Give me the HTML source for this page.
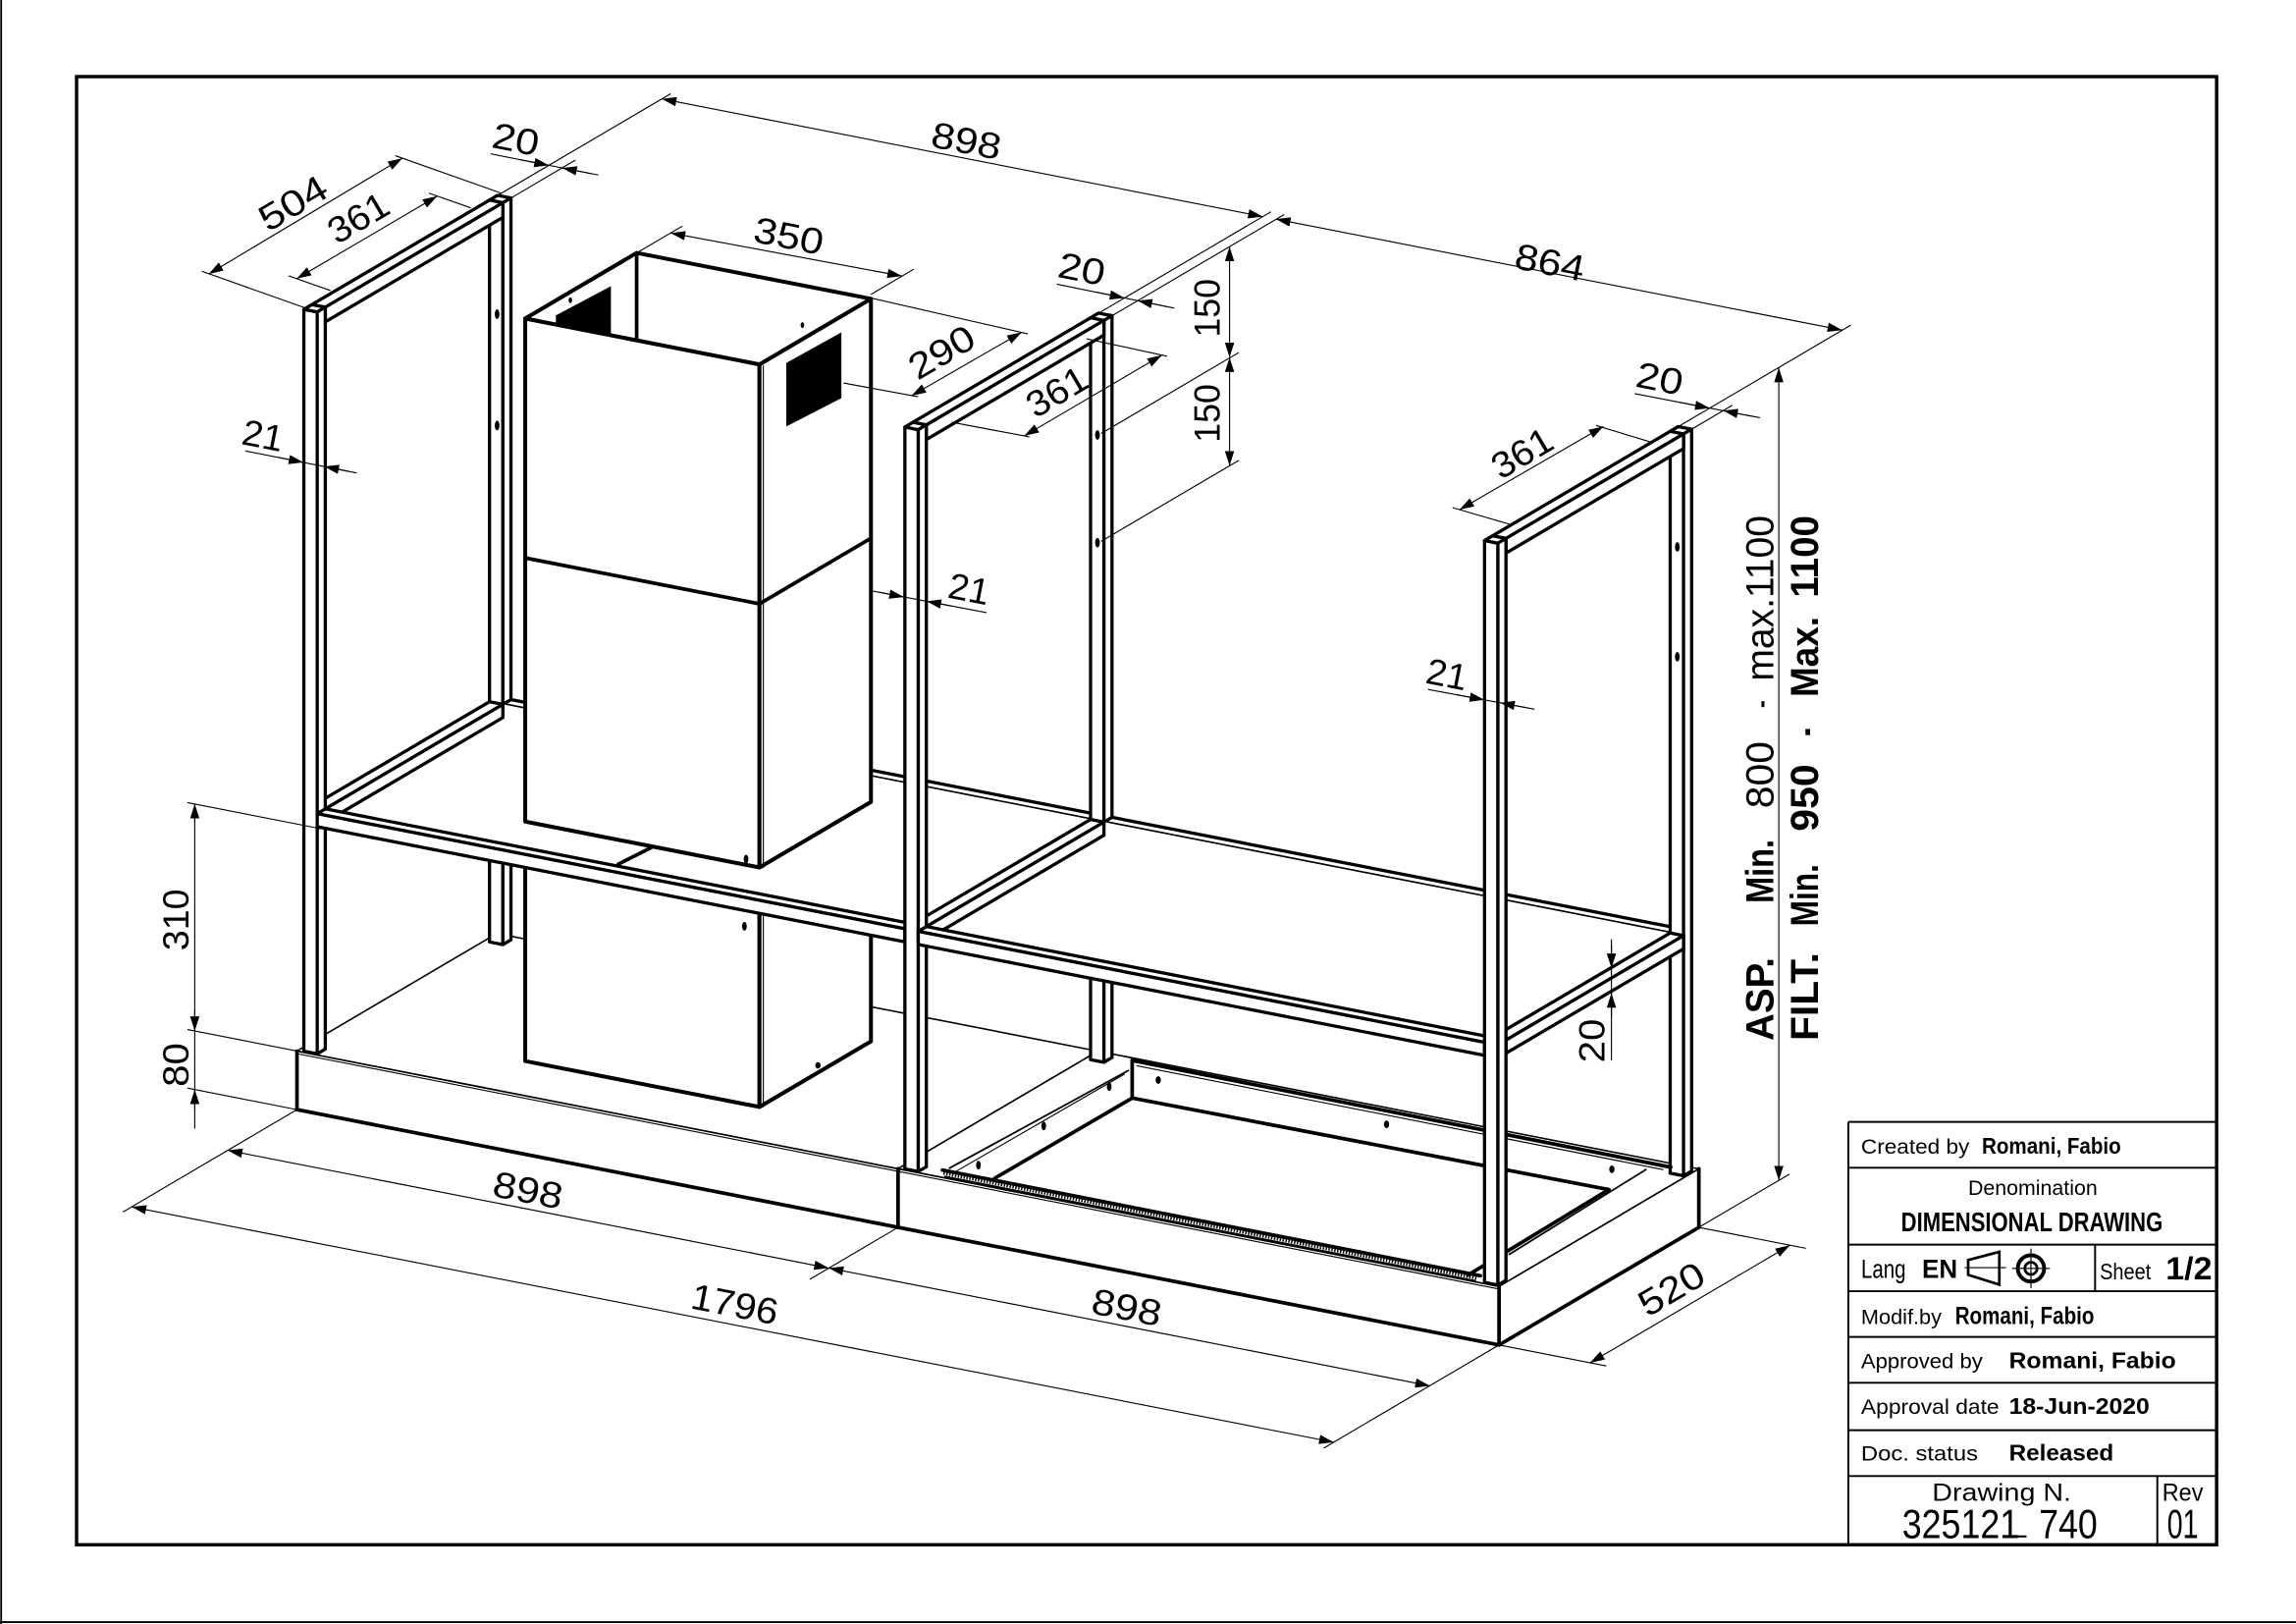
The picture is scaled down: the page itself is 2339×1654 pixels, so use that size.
<!DOCTYPE html>
<html><head><meta charset="utf-8">
<style>
html,body{margin:0;padding:0;background:#fff}
svg{display:block}
.t{fill:#fff;stroke:#000;stroke-width:3.3;vector-effect:non-scaling-stroke;stroke-linejoin:round}
.bx{fill:#fff;stroke:#000;stroke-width:4;vector-effect:non-scaling-stroke;stroke-linejoin:round}
.b{fill:#fff;stroke:#000;stroke-width:1.6;vector-effect:non-scaling-stroke}
.p{fill:#fff;stroke:none}
.d{stroke:#000;stroke-width:.75;fill:none}
.k{stroke:#000;stroke-width:2.5;fill:none;stroke-linecap:round}
.m{stroke:#000;stroke-width:1.2;fill:none}
.n{font-family:"Liberation Sans",Arial,sans-serif;font-size:25px;text-anchor:middle;dominant-baseline:central;fill:#000}
.tb{font-family:"Liberation Sans",Arial,sans-serif;fill:#000}
.bd{font-weight:bold}
</style></head>
<body>
<svg width="2339" height="1654">
<defs>
<marker id="ar" viewBox="0 0 10 6.4" refX="10" refY="3.2" markerWidth="10" markerHeight="6.4" markerUnits="userSpaceOnUse" orient="auto-start-reverse"><path d="M0,0L10,3.2L0,6.4Z" fill="#000"/></marker>
</defs>
<rect x="0" y="0" width="2339" height="1654" fill="#fff"/>
<g transform="scale(1.4917)">

<!-- ===== BASES ===== -->
<rect class="b" transform="matrix(.4571 .0895 0 -.5 202.8 757.6)" x="0" y="0" width="898" height="80"/>
<rect class="b" transform="matrix(.4571 .0895 .2625 -.1544 202.8 717.6)" x="0" y="0" width="898" height="520"/>
<rect class="b" transform="matrix(.4571 .0895 0 -.5 202.8 757.6)" x="898" y="0" width="898" height="80"/>
<rect class="b" transform="matrix(.4571 .0895 .2625 -.1544 202.8 717.6)" x="898" y="0" width="898" height="520"/>
<rect class="b" transform="matrix(.2625 -.1544 0 -.5 1023.75 918.34)" x="0" y="0" width="520" height="80"/>
<polyline class="k" points="202.8,717.6 202.8,757.6 1023.75,918.3 1160.2,838 1160.2,798"/>
<line class="k" x1="613.3" y1="798" x2="613.3" y2="838"/>
<line class="k" x1="1023.75" y1="878.3" x2="1023.75" y2="918.3"/>
<line class="d" x1="202.8" y1="719.4" x2="1023.75" y2="880.1"/>

<!-- ===== BACK POSTS & BACK RAILS ===== -->
<rect class="t" transform="matrix(.4571 .0895 0 -.5 330.64 682.41)" x="8" y="80" width="20" height="1013"/>
<rect class="t" transform="matrix(.4571 .0895 .2625 -.1544 202.8 211.1)" x="8" y="487" width="20" height="21"/>
<rect class="t" transform="matrix(.2625 -.1544 0 -.5 215.6 760.11)" x="487" y="80" width="21" height="1013"/>

<rect class="t" transform="matrix(.4571 .0895 0 -.5 330.64 682.41)" x="28" y="390" width="878" height="18"/>
<rect class="t" transform="matrix(.4571 .0895 .2625 -.1544 202.8 553.6)" x="28" y="487" width="878" height="21"/>

<rect class="t" transform="matrix(.4571 .0895 0 -.5 330.64 682.41)" x="906" y="80" width="20" height="1013"/>
<rect class="t" transform="matrix(.4571 .0895 .2625 -.1544 202.8 211.1)" x="906" y="487" width="20" height="21"/>
<rect class="t" transform="matrix(.2625 -.1544 0 -.5 626.07 840.48)" x="487" y="80" width="21" height="1013"/>

<rect class="t" transform="matrix(.4571 .0895 0 -.5 330.64 682.41)" x="926" y="390" width="846" height="18"/>
<rect class="t" transform="matrix(.4571 .0895 .2625 -.1544 202.8 553.6)" x="926" y="487" width="846" height="21"/>

<rect class="t" transform="matrix(.4571 .0895 0 -.5 330.64 682.41)" x="1772" y="80" width="20" height="1013"/>
<rect class="t" transform="matrix(.4571 .0895 .2625 -.1544 202.8 211.1)" x="1772" y="487" width="20" height="21"/>
<rect class="t" transform="matrix(.2625 -.1544 0 -.5 1021.92 917.98)" x="487" y="80" width="21" height="1013"/>

<!-- holes on back posts -->
<g fill="#000">
<ellipse cx="339.5" cy="214.5" rx="1.6" ry="3.3"/>
<ellipse cx="339.5" cy="290.5" rx="1.6" ry="3.3"/>
<ellipse cx="749.5" cy="297" rx="1.6" ry="3.3"/>
<ellipse cx="749.5" cy="370.5" rx="1.6" ry="3.3"/>
<ellipse cx="1145.5" cy="373.4" rx="1.6" ry="3.3"/>
<ellipse cx="1145.5" cy="448.4" rx="1.6" ry="3.3"/>
</g>

<!-- ===== RIGHT UNIT TRAY ===== -->
<line class="m" x1="648" y1="797.8" x2="770.9" y2="730.7"/>
<line class="d" x1="652" y1="800.3" x2="768" y2="733.3"/>
<line class="k" x1="679.3" y1="804.5" x2="773.2" y2="749.7"/>
<line class="k" x1="773.2" y1="724" x2="773.2" y2="749.7"/>
<line class="k" x1="773.2" y1="724" x2="1141" y2="796.9"/>
<line class="d" x1="776" y1="727.6" x2="1136" y2="798.6"/>
<line class="k" x1="773.2" y1="749.7" x2="1098.7" y2="812.2"/>
<line class="k" x1="1098.7" y1="812.2" x2="1002.5" y2="870.6"/>
<line class="m" x1="1030.3" y1="856.7" x2="1124.4" y2="798.3"/>
<line class="k" x1="643.6" y1="798.9" x2="1011" y2="871"/>
<line stroke="#000" stroke-width="2.2" stroke-dasharray="1 1" x1="644.3" y1="801" x2="1009" y2="872.8"/>
<line class="m" x1="645" y1="803.2" x2="1008" y2="874.6"/>
<g fill="#000">
<ellipse cx="668.2" cy="795.5" rx="1.6" ry="3"/>
<ellipse cx="712.8" cy="768.7" rx="1.6" ry="3"/>
<ellipse cx="757.5" cy="741.9" rx="1.6" ry="3"/>
<ellipse cx="791" cy="737.4" rx="1.8" ry="2.6"/>
<ellipse cx="946.9" cy="767.7" rx="1.8" ry="2.6"/>
<ellipse cx="1100.8" cy="798.3" rx="1.8" ry="2.6"/>
</g>

<!-- ===== LOWER CHIMNEY BOX ===== -->
<rect class="bx" transform="matrix(.4571 .0895 0 -.5 232.99 739.84)" x="275" y="80" width="350" height="310"/>
<rect class="bx" transform="matrix(.2625 -.1544 0 -.5 488.49 813.54)" x="115" y="80" width="290" height="310"/>
<line class="d" x1="521.3" y1="600" x2="521.3" y2="756"/>
<g fill="#000">
<ellipse cx="508.4" cy="632.4" rx="1.6" ry="3"/>
<ellipse cx="558.6" cy="727.4" rx="1.8" ry="2.2"/>
</g>

<!-- ===== SHELF PLATES ===== -->
<rect class="p" transform="matrix(.4571 .0895 .2625 -.1544 202.8 553.6)" x="28" y="25" width="878" height="462"/>
<rect class="p" transform="matrix(.4571 .0895 .2625 -.1544 202.8 553.6)" x="926" y="25" width="846" height="462"/>

<!-- ===== SIDE RAILS (Y direction) ===== -->
<rect class="t" transform="matrix(.4571 .0895 .2625 -.1544 202.8 553.6)" x="8" y="25" width="20" height="462"/>
<rect class="t" transform="matrix(.2625 -.1544 0 -.5 215.6 760.11)" x="25" y="390" width="462" height="18"/>
<rect class="t" transform="matrix(.4571 .0895 .2625 -.1544 202.8 211.1)" x="8" y="25" width="20" height="462"/>
<rect class="t" transform="matrix(.2625 -.1544 0 -.5 215.6 760.11)" x="25" y="1073" width="462" height="20"/>

<rect class="t" transform="matrix(.4571 .0895 .2625 -.1544 202.8 553.6)" x="906" y="25" width="20" height="462"/>
<rect class="t" transform="matrix(.2625 -.1544 0 -.5 626.07 840.48)" x="25" y="390" width="462" height="18"/>
<rect class="t" transform="matrix(.4571 .0895 .2625 -.1544 202.8 211.1)" x="906" y="25" width="20" height="462"/>
<rect class="t" transform="matrix(.2625 -.1544 0 -.5 626.07 840.48)" x="25" y="1073" width="462" height="20"/>

<rect class="t" transform="matrix(.4571 .0895 .2625 -.1544 202.8 553.6)" x="1772" y="25" width="20" height="462"/>
<rect class="t" transform="matrix(.2625 -.1544 0 -.5 1021.92 917.98)" x="25" y="390" width="462" height="18"/>
<rect class="t" transform="matrix(.4571 .0895 .2625 -.1544 202.8 211.1)" x="1772" y="25" width="20" height="462"/>
<rect class="t" transform="matrix(.2625 -.1544 0 -.5 1021.92 917.98)" x="25" y="1073" width="462" height="20"/>

<!-- ===== UPPER CHIMNEY BOX ===== -->
<rect class="bx" transform="matrix(.4571 .0895 0 -.5 232.99 739.84)" x="275" y="407" width="350" height="687"/>
<rect class="bx" transform="matrix(.2625 -.1544 0 -.5 488.49 813.54)" x="115" y="407" width="290" height="687"/>
<rect class="bx" transform="matrix(.4571 .0895 .2625 -.1544 202.8 210.6)" x="275" y="115" width="350" height="290"/>
<line class="k" x1="434.8" y1="172.7" x2="434.8" y2="232.4"/>
<polygon points="379.6,215.4 417.2,195.4 417.2,228.9 379.6,221.5" fill="#000"/>
<polygon points="537,247.8 574.6,226.9 574.6,271.8 537,291.2" fill="#000"/>
<polyline class="k" points="358.7,380.95 518.68,412.28 594.8,367.5"/>
<line class="d" x1="521.3" y1="249.5" x2="521.3" y2="592.6"/>
<g fill="#000">
<ellipse cx="509.5" cy="586.6" rx="1.6" ry="3"/>
<ellipse cx="389.5" cy="205" rx="1.2" ry="2"/>
<ellipse cx="548" cy="222" rx="1.2" ry="2"/>
</g>
<line class="k" x1="422.3" y1="590" x2="444.7" y2="578.7"/>

<!-- ===== FRONT POSTS & FRONT RAILS ===== -->
<rect class="t" transform="matrix(.4571 .0895 0 -.5 203.85 756.98)" x="8" y="80" width="20" height="1013"/>
<rect class="t" transform="matrix(.4571 .0895 .2625 -.1544 202.8 211.1)" x="8" y="4" width="20" height="21"/>
<rect class="t" transform="matrix(.2625 -.1544 0 -.5 215.6 760.11)" x="4" y="80" width="21" height="1013"/>

<rect class="t" transform="matrix(.4571 .0895 0 -.5 203.85 756.98)" x="28" y="390" width="878" height="18"/>
<rect class="t" transform="matrix(.4571 .0895 .2625 -.1544 202.8 553.6)" x="28" y="4" width="878" height="21"/>

<rect class="t" transform="matrix(.4571 .0895 0 -.5 203.85 756.98)" x="906" y="80" width="20" height="1013"/>
<rect class="t" transform="matrix(.4571 .0895 .2625 -.1544 202.8 211.1)" x="906" y="4" width="20" height="21"/>
<rect class="t" transform="matrix(.2625 -.1544 0 -.5 626.07 840.48)" x="4" y="80" width="21" height="1013"/>

<rect class="t" transform="matrix(.4571 .0895 0 -.5 203.85 756.98)" x="926" y="390" width="846" height="18"/>
<rect class="t" transform="matrix(.4571 .0895 .2625 -.1544 202.8 553.6)" x="926" y="4" width="846" height="21"/>

<rect class="t" transform="matrix(.4571 .0895 0 -.5 203.85 756.98)" x="1772" y="80" width="20" height="1013"/>
<rect class="t" transform="matrix(.4571 .0895 .2625 -.1544 202.8 211.1)" x="1772" y="4" width="20" height="21"/>
<rect class="t" transform="matrix(.2625 -.1544 0 -.5 1021.92 917.98)" x="4" y="80" width="21" height="1013"/>

<!-- ===== DIMENSIONS ===== -->
<g class="d">
<line x1="142.5" y1="187.1" x2="274.8" y2="108" marker-start="url(#ar)" marker-end="url(#ar)"/>
<line x1="207.8" y1="210" x2="137.8" y2="185.2"/>
<line x1="342" y1="131.8" x2="270" y2="106.3"/>
<line x1="202.6" y1="190.3" x2="298.6" y2="133.9" marker-start="url(#ar)" marker-end="url(#ar)"/>
<line x1="225.7" y1="198.4" x2="197" y2="188.3"/>
<line x1="321.5" y1="141.9" x2="293" y2="131.9"/>
<line x1="335" y1="105" x2="408.7" y2="119.5"/>
<path d="M355,109L374.8,112.9" marker-end="url(#ar)"/>
<path d="M404,118.6L384,114.7" marker-end="url(#ar)"/>
<line x1="339.9" y1="133.4" x2="458" y2="64"/>
<line x1="349" y1="135.2" x2="393" y2="109.3"/>
<line x1="452" y1="67.5" x2="862.4" y2="147.9" marker-start="url(#ar)" marker-end="url(#ar)"/>
<line x1="871.4" y1="149.6" x2="1258.1" y2="225.4" marker-start="url(#ar)" marker-end="url(#ar)"/>
<line x1="750.3" y1="213.8" x2="868" y2="144.6"/>
<line x1="759.4" y1="215.6" x2="877" y2="146.5"/>
<line x1="1146.1" y1="291.3" x2="1264" y2="222"/>
<line x1="1155.2" y1="293.1" x2="1183" y2="276.7"/>
<line x1="721.7" y1="194" x2="802" y2="210.4"/>
<path d="M748,199.3L767.9,203.4" marker-end="url(#ar)"/>
<path d="M797,209.4L776.9,205.3" marker-end="url(#ar)"/>
<line x1="1116.4" y1="268.8" x2="1201.9" y2="285.2"/>
<path d="M1147,274.7L1167.6,278.6" marker-end="url(#ar)"/>
<path d="M1197,284.3L1176.8,280.4" marker-end="url(#ar)"/>
<line x1="839.7" y1="168.4" x2="839.7" y2="244" marker-start="url(#ar)" marker-end="url(#ar)"/>
<line x1="839.7" y1="244" x2="839.7" y2="318" marker-start="url(#ar)" marker-end="url(#ar)"/>
<line x1="752" y1="296" x2="846" y2="240.7"/>
<line x1="752" y1="369.6" x2="846" y2="314.3"/>
<line x1="699.5" y1="297.6" x2="793.5" y2="242.5" marker-start="url(#ar)" marker-end="url(#ar)"/>
<line x1="650" y1="288.3" x2="703" y2="298.3"/>
<line x1="742" y1="231.3" x2="797" y2="243.2"/>
<line x1="996.7" y1="348" x2="1095" y2="291.2" marker-start="url(#ar)" marker-end="url(#ar)"/>
<line x1="1030.9" y1="357.9" x2="992" y2="346.6"/>
<line x1="1127" y1="301.7" x2="1090" y2="290.5"/>
<line x1="622.5" y1="270.2" x2="697.7" y2="226.9" marker-start="url(#ar)" marker-end="url(#ar)"/>
<line x1="576" y1="261.5" x2="627" y2="270.9"/>
<line x1="594.8" y1="203.5" x2="702" y2="228"/>
<line x1="458" y1="159.1" x2="616" y2="188.5" marker-start="url(#ar)" marker-end="url(#ar)"/>
<line x1="434.8" y1="172.7" x2="466" y2="154.4"/>
<line x1="594.8" y1="201" x2="624" y2="183.8"/>
<line x1="167.6" y1="307.9" x2="243.5" y2="322.9"/>
<path d="M190,312.3L207.2,315.7" marker-end="url(#ar)"/>
<path d="M238,321.8L221.5,318.5" marker-end="url(#ar)"/>
<line x1="595.2" y1="403.4" x2="673.7" y2="418.3"/>
<path d="M600,404.3L617.3,407.6" marker-end="url(#ar)"/>
<path d="M650,413.8L632.8,410.5" marker-end="url(#ar)"/>
<line x1="975.3" y1="470.7" x2="1048" y2="484.2"/>
<path d="M995,474.4L1013.7,477.8" marker-end="url(#ar)"/>
<path d="M1042,483.1L1024.5,479.8" marker-end="url(#ar)"/>
<line x1="1100.5" y1="641.3" x2="1100.5" y2="724"/>
<path d="M1100.5,645L1100.5,661" marker-end="url(#ar)"/>
<path d="M1100.5,694L1100.5,678" marker-end="url(#ar)"/>
<line x1="133" y1="548.9" x2="133" y2="770.6"/>
<path d="M133,562L133,548.9" marker-end="url(#ar)"/>
<path d="M133,690L133,703.9" marker-end="url(#ar)"/>
<path d="M133,757L133,743.9" marker-end="url(#ar)"/>
<line x1="128" y1="548" x2="219" y2="565.8"/>
<line x1="128" y1="702.9" x2="202.8" y2="717.6"/>
<line x1="128" y1="742.9" x2="202.8" y2="757.6"/>
<line x1="202.8" y1="757.6" x2="84" y2="827.5"/>
<line x1="613.3" y1="838" x2="553" y2="873.5"/>
<line x1="1023.75" y1="918.3" x2="904" y2="988.7"/>
<line x1="1023.75" y1="918.3" x2="1097" y2="932.6"/>
<line x1="1160.2" y1="838" x2="1233.3" y2="852.3"/>
<line x1="1160.2" y1="838" x2="1222" y2="801.7"/>
<line x1="155.55" y1="785.4" x2="566.05" y2="865.8" marker-start="url(#ar)" marker-end="url(#ar)"/>
<line x1="566.05" y1="865.8" x2="976.55" y2="946.2" marker-start="url(#ar)" marker-end="url(#ar)"/>
<line x1="89.9" y1="824" x2="910.85" y2="984.7" marker-start="url(#ar)" marker-end="url(#ar)"/>
<line x1="1085.9" y1="930.5" x2="1222.4" y2="850.2" marker-start="url(#ar)" marker-end="url(#ar)"/>
<line x1="1214.8" y1="251" x2="1214.8" y2="806" marker-start="url(#ar)" marker-end="url(#ar)"/>
</g>

<!-- dimension texts -->
<text class="n" transform="translate(200,138.6) rotate(-30.5)" textLength="50" lengthAdjust="spacingAndGlyphs">504</text>
<text class="n" transform="translate(244.6,148.6) rotate(-30.5)" textLength="44" lengthAdjust="spacingAndGlyphs">361</text>
<text class="n" transform="translate(352.3,95) rotate(11.1)" textLength="32" lengthAdjust="spacingAndGlyphs">20</text>
<text class="n" transform="translate(179.6,297.2) rotate(11.1)" textLength="28" lengthAdjust="spacingAndGlyphs">21</text>
<text class="n" transform="translate(660,96) rotate(11.1)" textLength="48" lengthAdjust="spacingAndGlyphs">898</text>
<text class="n" transform="translate(538.7,161) rotate(11.1)" textLength="48" lengthAdjust="spacingAndGlyphs">350</text>
<text class="n" transform="translate(643,240.3) rotate(-30.5)" textLength="48" lengthAdjust="spacingAndGlyphs">290</text>
<text class="n" transform="translate(738.8,183.5) rotate(11.1)" textLength="32" lengthAdjust="spacingAndGlyphs">20</text>
<text class="n" transform="translate(824.3,210.4) rotate(-90)" textLength="40" lengthAdjust="spacingAndGlyphs">150</text>
<text class="n" transform="translate(824.3,282.2) rotate(-90)" textLength="40" lengthAdjust="spacingAndGlyphs">150</text>
<text class="n" transform="translate(721.7,267.3) rotate(-30.5)" textLength="44" lengthAdjust="spacingAndGlyphs">361</text>
<text class="n" transform="translate(661.8,402) rotate(11.1)" textLength="28" lengthAdjust="spacingAndGlyphs">21</text>
<text class="n" transform="translate(1058.5,179) rotate(11.1)" textLength="48" lengthAdjust="spacingAndGlyphs">864</text>
<text class="n" transform="translate(1133.5,258.3) rotate(11.1)" textLength="32" lengthAdjust="spacingAndGlyphs">20</text>
<text class="n" transform="translate(1039.4,309.2) rotate(-30.5)" textLength="44" lengthAdjust="spacingAndGlyphs">361</text>
<text class="n" transform="translate(988.1,460.3) rotate(11.1)" textLength="28" lengthAdjust="spacingAndGlyphs">21</text>
<text class="n" transform="translate(1087.1,710.6) rotate(-90)" textLength="30" lengthAdjust="spacingAndGlyphs">20</text>
<text class="n" transform="translate(120,628) rotate(-90)" textLength="42" lengthAdjust="spacingAndGlyphs">310</text>
<text class="n" transform="translate(120,727) rotate(-90)" textLength="30" lengthAdjust="spacingAndGlyphs">80</text>
<text class="n" transform="translate(360.6,812.5) rotate(11.1)" textLength="48" lengthAdjust="spacingAndGlyphs">898</text>
<text class="n" transform="translate(501.8,890.3) rotate(11.1)" textLength="60" lengthAdjust="spacingAndGlyphs">1796</text>
<text class="n" transform="translate(769.5,892.5) rotate(11.1)" textLength="48" lengthAdjust="spacingAndGlyphs">898</text>
<text class="n" transform="translate(1141.4,880) rotate(-30.5)" textLength="48" lengthAdjust="spacingAndGlyphs">520</text>

<!-- ASP / FILT -->
<g class="tb" font-size="27">
<text class="bd" transform="translate(1211,710.6) rotate(-90)" textLength="57" lengthAdjust="spacingAndGlyphs">ASP.</text>
<text class="bd" transform="translate(1211,616.7) rotate(-90)" textLength="43.5" lengthAdjust="spacingAndGlyphs">Min.</text>
<text transform="translate(1211,551.9) rotate(-90)" textLength="45.8" lengthAdjust="spacingAndGlyphs">800</text>
<text transform="translate(1211,483.5) rotate(-90)" textLength="5.5" lengthAdjust="spacingAndGlyphs">-</text>
<text transform="translate(1211,465) rotate(-90)" textLength="113" lengthAdjust="spacingAndGlyphs">max.1100</text>
<text class="bd" transform="translate(1241.5,710.6) rotate(-90)" textLength="60.3" lengthAdjust="spacingAndGlyphs">FILT.</text>
<text class="bd" transform="translate(1241.5,632.4) rotate(-90)" textLength="42.4" lengthAdjust="spacingAndGlyphs">Min.</text>
<text class="bd" transform="translate(1241.5,567.6) rotate(-90)" textLength="45.8" lengthAdjust="spacingAndGlyphs">950</text>
<text class="bd" transform="translate(1241.5,502.5) rotate(-90)" textLength="5.5" lengthAdjust="spacingAndGlyphs">-</text>
<text class="bd" transform="translate(1241.5,476) rotate(-90)" textLength="55" lengthAdjust="spacingAndGlyphs">Max.</text>
<text class="bd" transform="translate(1241.5,408) rotate(-90)" textLength="56" lengthAdjust="spacingAndGlyphs">1100</text>
</g>

<!-- ===== SHEET BORDERS ===== -->
<line x1="0.8" y1="0" x2="0.8" y2="1109" stroke="#000" stroke-width="1.2"/>
<line x1="0" y1="1107.5" x2="1568" y2="1107.5" stroke="#000" stroke-width="1.2"/>
<rect x="52.3" y="52.3" width="1461.5" height="1002.4" fill="none" stroke="#000" stroke-width="2.3"/>

<!-- ===== TITLE BLOCK ===== -->
<g stroke="#000" stroke-width="1.3" fill="none">
<line x1="1262.3" y1="766" x2="1513.8" y2="766"/>
<line x1="1262.3" y1="766" x2="1262.3" y2="1054.7"/>
<line x1="1262.3" y1="797.3" x2="1513.8" y2="797.3"/>
<line x1="1262.3" y1="849.8" x2="1513.8" y2="849.8"/>
<line x1="1262.3" y1="881.6" x2="1513.8" y2="881.6"/>
<line x1="1262.3" y1="912.8" x2="1513.8" y2="912.8"/>
<line x1="1262.3" y1="944.1" x2="1513.8" y2="944.1"/>
<line x1="1262.3" y1="976.5" x2="1513.8" y2="976.5"/>
<line x1="1262.3" y1="1007.8" x2="1513.8" y2="1007.8"/>
<line x1="1430.8" y1="849.8" x2="1430.8" y2="881.6"/>
<line x1="1473.3" y1="1007.8" x2="1473.3" y2="1054.7"/>
</g>
<g class="tb">
<text x="1271" y="787.7" font-size="14.5" textLength="74" lengthAdjust="spacingAndGlyphs">Created by</text>
<text class="bd" x="1353.5" y="787.7" font-size="15.5" textLength="95" lengthAdjust="spacingAndGlyphs">Romani, Fabio</text>
<text x="1344.1" y="816" font-size="14.5" textLength="88.3" lengthAdjust="spacingAndGlyphs">Denomination</text>
<text class="bd" x="1298.3" y="840.7" font-size="18.5" textLength="178.7" lengthAdjust="spacingAndGlyphs">DIMENSIONAL  DRAWING</text>
<text x="1271" y="872.6" font-size="18" textLength="30.6" lengthAdjust="spacingAndGlyphs">Lang</text>
<text class="bd" x="1312.6" y="872.6" font-size="18" textLength="24.2" lengthAdjust="spacingAndGlyphs">EN</text>
<text x="1434" y="873.6" font-size="15.5" textLength="35" lengthAdjust="spacingAndGlyphs">Sheet</text>
<text class="bd" x="1479" y="873.6" font-size="22" textLength="31.7" lengthAdjust="spacingAndGlyphs">1/2</text>
<text x="1271" y="903.9" font-size="14" textLength="55" lengthAdjust="spacingAndGlyphs">Modif.by</text>
<text class="bd" x="1335.2" y="903.9" font-size="16.5" textLength="95" lengthAdjust="spacingAndGlyphs">Romani, Fabio</text>
<text x="1271" y="934.1" font-size="14" textLength="83" lengthAdjust="spacingAndGlyphs">Approved by</text>
<text class="bd" x="1372" y="934.1" font-size="15.6" textLength="114" lengthAdjust="spacingAndGlyphs">Romani, Fabio</text>
<text x="1271" y="965.3" font-size="14" textLength="94.3" lengthAdjust="spacingAndGlyphs">Approval date</text>
<text class="bd" x="1372" y="965.3" font-size="15.6" textLength="96" lengthAdjust="spacingAndGlyphs">18-Jun-2020</text>
<text x="1271" y="997.1" font-size="14" textLength="79.8" lengthAdjust="spacingAndGlyphs">Doc. status</text>
<text class="bd" x="1372" y="997.1" font-size="15.6" textLength="71.5" lengthAdjust="spacingAndGlyphs">Released</text>
<text x="1319.5" y="1024.6" font-size="17" textLength="95" lengthAdjust="spacingAndGlyphs">Drawing N.</text>
<text x="1299" y="1050.3" font-size="28" textLength="133.5" lengthAdjust="spacingAndGlyphs">325121_740</text>
<text x="1476.7" y="1024.6" font-size="17" textLength="27.9" lengthAdjust="spacingAndGlyphs">Rev</text>
<text x="1480" y="1050.3" font-size="28" textLength="21.3" lengthAdjust="spacingAndGlyphs">01</text>
</g>
<line x1="1376.5" y1="1049" x2="1384" y2="1049" stroke="#000" stroke-width="1.4"/>
<!-- projection symbol -->
<g stroke="#000" fill="none">
<polygon points="1344.1,860.3 1365.4,854.7 1365.4,877.1 1344.1,870.4" stroke-width="1.8"/>
<line x1="1341.7" y1="865.5" x2="1370" y2="865.5" stroke-width="0.8"/>
<circle cx="1387" cy="866" r="9" stroke-width="2.6"/>
<circle cx="1387" cy="866" r="4.2" stroke-width="1.8"/>
<line x1="1374" y1="866" x2="1400" y2="866" stroke-width="0.8"/>
<line x1="1387" y1="852.5" x2="1387" y2="879.5" stroke-width="0.8"/>
</g>

</g>
</svg>
</body></html>
